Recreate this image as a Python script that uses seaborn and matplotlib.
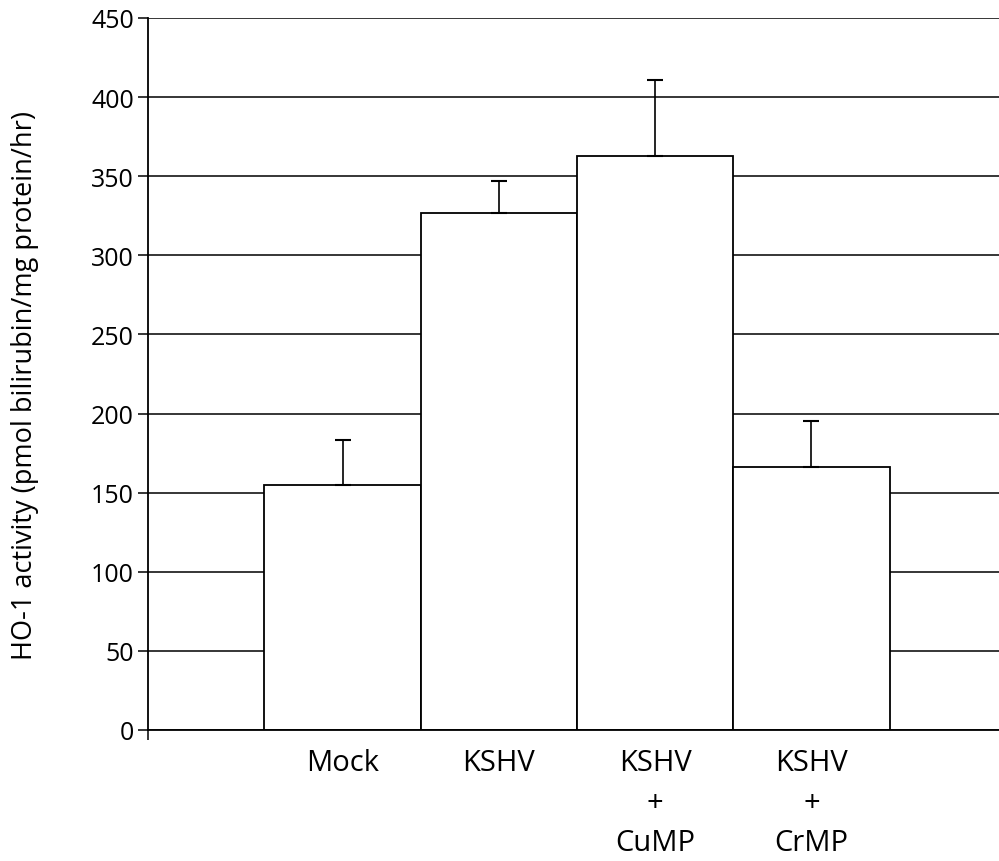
import matplotlib.pyplot as plt
import seaborn as sns
import numpy as np
import pandas as pd

# values
groups = ["Mock", "KSHV", "KSHV\n+\nCuMP", "KSHV\n+\nCrMP"]
activity = [155, 327, 363, 166]
err_up = [28, 20, 48, 29]
yticks = np.arange(0, 451, 50)


def main():
    sns.set_style("white")
    plt.rcParams["font.family"] = ["Open Sans", "DejaVu Sans"]
    plt.rcParams.update({"text.color": "black", "axes.labelcolor": "black",
                         "xtick.color": "black", "ytick.color": "black"})

    fig = plt.figure(figsize=(9.99, 8.62), dpi=100)
    ax = fig.add_axes([0.148, 0.152, 0.852, 0.826])

    df = pd.DataFrame({"group": groups, "activity": activity})
    ax.set_axisbelow(True)
    ax.yaxis.grid(True, color="black", linewidth=1.1)
    sns.barplot(data=df, x="group", y="activity", width=1.0, color="white",
                edgecolor="black", linewidth=1.3, saturation=1, ax=ax, zorder=2)
    for p in ax.patches:
        p.set_facecolor("white")

    ax.errorbar(np.arange(len(groups)), activity,
                yerr=[np.zeros(len(groups)), err_up], fmt="none",
                ecolor="black", elinewidth=1.2, capsize=5.5, capthick=1.5, zorder=3)

    ax.set_xlim(-1.246, 4.2)
    ax.set_ylim(0, 450)
    ax.set_yticks(yticks)
    ax.set_yticklabels([str(v) for v in yticks], fontsize=18, color="black")
    ax.tick_params(axis="y", direction="out", length=7, width=1.1, pad=3,
                   left=True, color="black")
    ax.tick_params(axis="x", length=0, pad=13, labelsize=21, labelcolor="black")
    ax.set_xticks([-1.246], minor=True)
    ax.tick_params(axis="x", which="minor", direction="out", length=7,
                   width=1.1, bottom=True, color="black")
    for lab in ax.get_xticklabels():
        lab.set_linespacing(1.5)

    ax.set_xlabel("")
    ax.set_ylabel("HO-1 activity (pmol bilirubin/mg protein/hr)", fontsize=19.5,
                  color="black")
    ax.yaxis.set_label_coords(-0.128, 0.485)

    for side in ["top", "right"]:
        ax.spines[side].set_visible(False)
    for side in ["left", "bottom"]:
        ax.spines[side].set_color("black")
        ax.spines[side].set_linewidth(1.3)

    fig.savefig("out.png", dpi=100, facecolor="white")


if __name__ == "__main__":
    main()
